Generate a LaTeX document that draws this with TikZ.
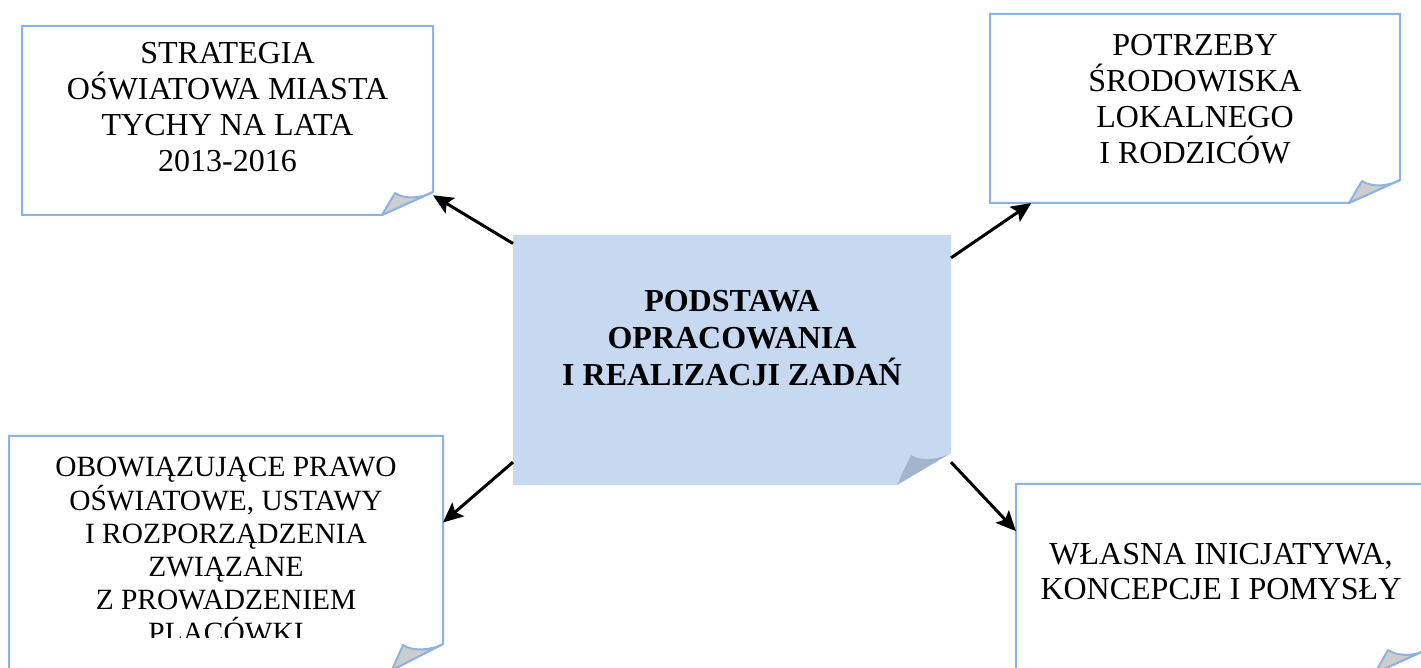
\documentclass[tikz,border=0pt]{standalone}
\usepackage{fontspec}
\setmainfont{Liberation Serif}
\usetikzlibrary{positioning,calc,arrows.meta}
\definecolor{frameblue}{RGB}{141,179,226}
\definecolor{bodyblue}{RGB}{198,217,241}
\definecolor{flapgrey}{RGB}{205,205,205}
\definecolor{flapblue}{RGB}{163,181,204}
% #1 node, #2 fold along bottom, #3 fold along right side, #4,#5 tip, #6 body style, #7 flap style
\newcommand{\foldframe}[7]{%
\path[#6] (#1.south west) -- (#1.north west) -- (#1.north east) -- ($(#1.south east)+(0,-#3)$) -- ($(#1.south east)+(-#2,0)$) -- cycle;
\path[#7] ($(#1.south east)+(-#2,0)$) -- ($(#1.south east)+(#4,#5)$) .. controls +(10,7) and +(-10,6) .. ($(#1.south east)+(0,-#3)$) -- cycle;
}

\begin{document}
\begin{tikzpicture}[x=0.5pt,y=-0.5pt,
  box/.style={inner sep=0pt,outer sep=0pt},
  whitebody/.style={draw=frameblue,line width=1pt,fill=white},
  bluebody/.style={fill=bodyblue},
  greyflap/.style={draw=frameblue,line width=1pt,line join=round,fill=flapgrey},
  blueflap/.style={fill=flapblue},
  boxtext/.style={align=center,inner sep=0pt,font=\fontsize{16}{18}\selectfont},
  conn/.style={-{Stealth[length=10pt,width=9pt,inset=2pt]},line width=1.5pt}]
\useasboundingbox (0,0) rectangle (1421,668);
\clip (0,0) rectangle (1421,668);

\node[box,minimum width=205.5pt,minimum height=94.5pt] (strategia) at (227.5,120.5) {};
\node[box,minimum width=205pt,minimum height=94.5pt] (potrzeby) at (1195,108.5) {};
\node[box,minimum width=219pt,minimum height=125pt] (podstawa) at (732,360) {};
\node[box,minimum width=217pt,minimum height=117pt] (prawo) at (226,553) {};
\node[box,minimum width=205pt,minimum height=94.5pt] (inicjatywa) at (1221,578.5) {};

\foldframe{strategia}{51}{23}{-38}{-22}{whitebody}{greyflap}
\foldframe{potrzeby}{51}{23}{-38}{-22}{whitebody}{greyflap}
\foldframe{podstawa}{54}{32}{-40}{-30}{bluebody}{blueflap}
\foldframe{prawo}{51}{26}{-40}{-25}{whitebody}{greyflap}
\foldframe{inicjatywa}{51}{23}{-38}{-23}{whitebody}{greyflap}

\node[boxtext,below=7.75pt of strategia.north] (strategia text) {STRATEGIA\\OŚWIATOWA MIASTA\\TYCHY NA LATA\\2013-2016};
\node[boxtext,below=9.75pt of potrzeby.north] (potrzeby text) {POTRZEBY\\ŚRODOWISKA\\LOKALNEGO\\I RODZICÓW};
\node[boxtext,font=\fontsize{16}{18.5}\selectfont\bfseries,below=27.25pt of podstawa.north] (podstawa text) {PODSTAWA\\OPRACOWANIA\\I REALIZACJI ZADAŃ};
\begin{scope}
\clip (0,436) rectangle (1421,637);
\node[boxtext,font=\fontsize{14.7}{16.6}\selectfont,below=10.5pt of prawo.north] (prawo text) {OBOWIĄZUJĄCE PRAWO\\OŚWIATOWE, USTAWY\\I ROZPORZĄDZENIA\\ZWIĄZANE\\Z PROWADZENIEM\\PLACÓWKI};
\end{scope}
\node[boxtext,font=\fontsize{16}{17.5}\selectfont,below=29.25pt of inicjatywa.north] (inicjatywa text) {WŁASNA INICJATYWA,\\KONCEPCJE I POMYSŁY};

\draw[conn] (podstawa.152) -- (strategia.-20);
\draw[conn] (podstawa.25) -- (potrzeby.210);
\draw[conn] (podstawa.205) -- (prawo.8);
\draw[conn] (podstawa.-25) -- (inicjatywa.167);
\end{tikzpicture}
\end{document}
